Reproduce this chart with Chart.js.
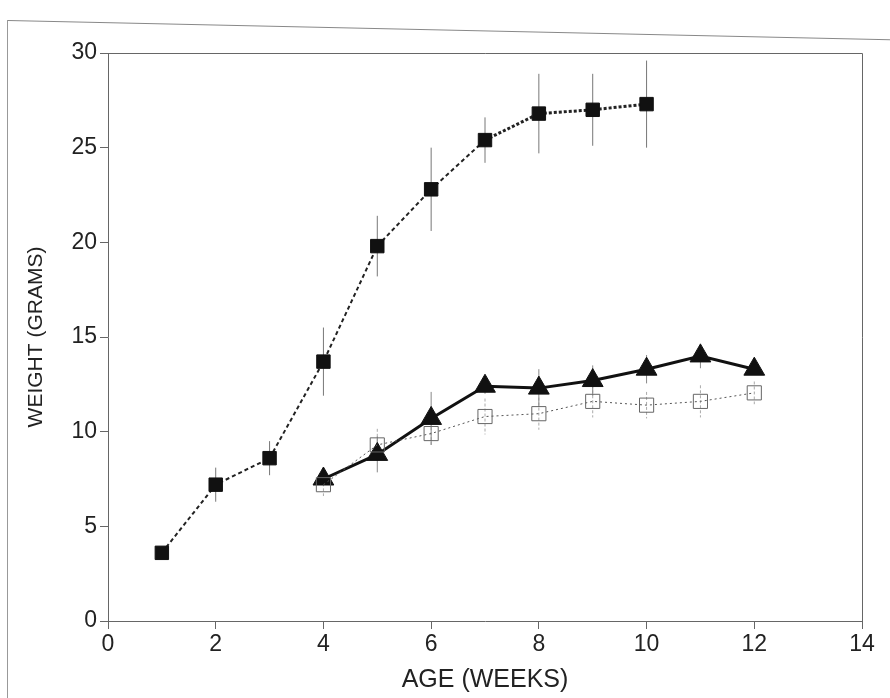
<!DOCTYPE html>
<html>
<head>
<meta charset="utf-8">
<script src="https://cdn.jsdelivr.net/npm/chart.js@4/dist/chart.umd.min.js"></script>
<style>
  html, body { margin: 0; padding: 0; background: #fff; }
  #wrap { position: relative; width: 890px; height: 698px; overflow: hidden; }
  #chart { position: absolute; left: 0; top: 0; }
  .scan-top { position: absolute; left: 8px; top: 20px; width: 900px; height: 0;
              border-top: 1px solid #888; transform: rotate(1.25deg); transform-origin: 0 0; }
  .scan-left { position: absolute; left: 7px; top: 20px; width: 0; height: 690px;
               border-left: 1px solid #999; }
</style>
</head>
<body>
<div id="wrap">
  <canvas id="chart" width="890" height="698"></canvas>
  <div class="scan-top"></div>
  <div class="scan-left"></div>
</div>
<script>
// weeks
const weeksA = [1, 2, 3, 4, 5, 6, 7, 8, 9, 10];
const weeksB = [4, 5, 6, 7, 8, 9, 10, 11, 12];

// filled squares
const filledWeight = [3.6, 7.2, 8.6, 13.7, 19.8, 22.8, 25.4, 26.8, 27.0, 27.3];
const filledErr    = [0, 0.9, 0.9, 1.8, 1.6, 2.2, 1.2, 2.1, 1.9, 2.3];

// filled triangles
const triWeight = [7.5, 8.8, 10.7, 12.4, 12.3, 12.7, 13.3, 14.0, 13.3];
const triErr    = [0.3, 0.95, 1.4, 0.4, 1.0, 0.8, 0.75, 0.65, 0.3];

// open squares
const openWeight = [7.2, 9.3, 9.9, 10.8, 10.95, 11.6, 11.4, 11.6, 12.05];
const openErr    = [0.6, 0.85, 0.6, 0.95, 0.85, 0.85, 0.7, 0.85, 0.6];

const xTicks = [0, 2, 4, 6, 8, 10, 12, 14];
const yTicks = [0, 5, 10, 15, 20, 25, 30];

const toPoints = (xs, ys) => xs.map((x, i) => ({ x: x, y: ys[i] }));

const errorBars = {
    id: 'errorBars',
    beforeDatasetsDraw(chart) {
        const { ctx, scales: { x, y } } = chart;
        chart.data.datasets.forEach(ds => {
            if (!ds.errors) return;
            ctx.save();
            ctx.strokeStyle = ds.errorColor;
            ctx.lineWidth = 1;
            ctx.setLineDash(ds.errorDash || []);
            ds.data.forEach((p, i) => {
                const e = ds.errors[i];
                if (!e) return;
                const px = x.getPixelForValue(p.x);
                ctx.beginPath();
                ctx.moveTo(px, y.getPixelForValue(p.y + e));
                ctx.lineTo(px, y.getPixelForValue(p.y - e));
                ctx.stroke();
            });
            ctx.restore();
        });
    }
};

const frame = {
    id: 'frame',
    afterDraw(chart) {
        const { ctx, chartArea: a } = chart;
        ctx.save();
        ctx.strokeStyle = '#666';
        ctx.lineWidth = 1;
        ctx.beginPath();
        ctx.moveTo(a.left, a.top + 0.5);
        ctx.lineTo(a.right + 0.5, a.top + 0.5);
        ctx.lineTo(a.right + 0.5, a.bottom);
        ctx.stroke();
        ctx.restore();
    }
};

const tickFont = { family: "'Liberation Sans', Arial, sans-serif", size: 23 };

new Chart(document.getElementById('chart'), {
    type: 'line',
    data: {
        datasets: [
            {
                data: toPoints(weeksB, openWeight),
                errors: openErr,
                errorColor: '#aaa',
                errorDash: [3, 2],
                borderColor: '#555',
                borderWidth: 1,
                borderDash: [2, 3],
                pointStyle: 'rect',
                pointRadius: 10,
                pointBackgroundColor: 'rgba(255,255,255,0)',
                pointBorderColor: '#666',
                pointBorderWidth: 1,
                tension: 0
            },
            {
                data: toPoints(weeksB, triWeight),
                errors: triErr,
                errorColor: '#888',
                borderColor: '#111',
                borderWidth: 3,
                pointStyle: 'triangle',
                pointRadius: 12,
                pointBackgroundColor: '#111',
                pointBorderColor: '#111',
                pointBorderWidth: 1,
                tension: 0
            },
            {
                data: toPoints(weeksA, filledWeight),
                errors: filledErr,
                errorColor: '#777',
                borderColor: '#222',
                borderWidth: 2,
                borderDash: [4, 3],
                segment: {
                    borderDash: c => c.p0.parsed.x >= 7 ? [3, 2] : [4, 3],
                    borderWidth: c => c.p0.parsed.x >= 7 ? 3 : 2
                },
                pointStyle: 'rect',
                pointRadius: 9.5,
                pointBackgroundColor: '#111',
                pointBorderColor: '#111',
                pointBorderWidth: 1,
                tension: 0
            }
        ]
    },
    options: {
        responsive: false,
        animation: false,
        layout: { padding: { top: 53, right: 28, left: 0, bottom: 0 } },
        plugins: {
            legend: { display: false },
            tooltip: { enabled: false }
        },
        scales: {
            x: {
                type: 'linear',
                min: 0,
                max: 14,
                afterFit: s => { s.height = 77; },
                afterBuildTicks: s => { s.ticks = xTicks.map(v => ({ value: v })); },
                ticks: { font: tickFont, color: '#222', padding: 2 },
                grid: { display: true, drawOnChartArea: false, drawTicks: true, tickLength: 8, color: '#666' },
                border: { display: true, color: '#666', width: 1 },
                title: {
                    display: true,
                    text: 'AGE (WEEKS)',
                    color: '#222',
                    font: { family: "'Liberation Sans Narrow', 'Liberation Sans', Arial, sans-serif", size: 25 },
                    padding: { top: 0, bottom: 3 }
                }
            },
            y: {
                min: 0,
                max: 30,
                afterFit: s => { s.width = 108; },
                afterBuildTicks: s => { s.ticks = yTicks.map(v => ({ value: v })); },
                ticks: { font: tickFont, color: '#222', padding: 3 },
                grid: { display: true, drawOnChartArea: false, drawTicks: true, tickLength: 8, color: '#666' },
                border: { display: true, color: '#666', width: 1 },
                title: {
                    display: true,
                    text: 'WEIGHT (GRAMS)',
                    color: '#222',
                    font: { family: "'Liberation Sans', Arial, sans-serif", size: 21 },
                    padding: { top: 24, bottom: 0 }
                }
            }
        }
    },
    plugins: [errorBars, frame]
});
</script>
</body>
</html>
